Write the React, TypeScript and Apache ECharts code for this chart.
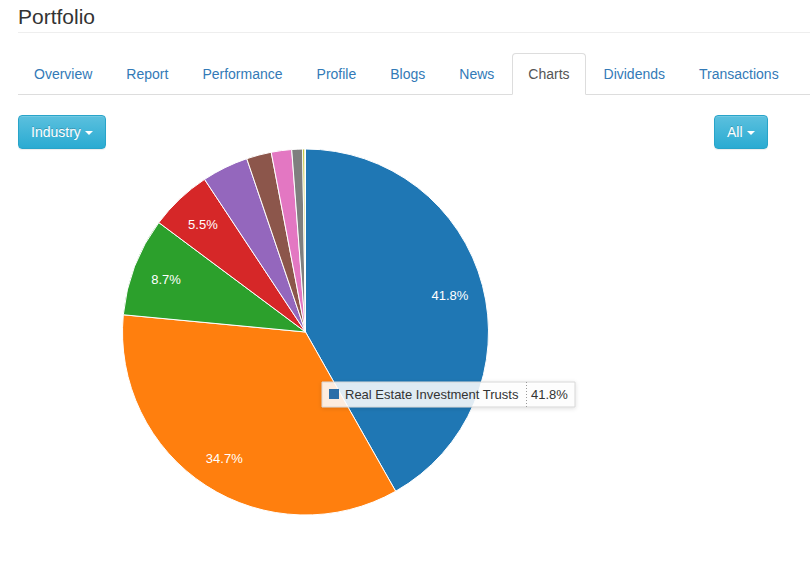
import React, { useEffect, useRef } from 'react';
import * as echarts from 'echarts';

const pageTitle = 'Portfolio';
const tabs = ['Overview', 'Report', 'Performance', 'Profile', 'Blogs', 'News', 'Charts', 'Dividends', 'Transactions'];
const activeTab = 'Charts';
const leftButton = 'Industry';
const rightButton = 'All';

const categories = [
  'Real Estate Investment Trusts',
  'Industry B',
  'Industry C',
  'Industry D',
  'Industry E',
  'Industry F',
  'Industry G',
  'Industry H',
  'Industry I',
  'Industry J',
];
const values = [41.8, 34.7, 8.7, 5.5, 4.1, 2.2, 1.8, 0.95, 0.2, 0.05];
const colors = ['#1f77b4', '#ff7f0e', '#2ca02c', '#d62728', '#9467bd', '#8c564b', '#e377c2', '#7f7f7f', '#bcbd22', '#17becf'];
const labelThreshold = 5;
const tooltipIndex = 0;

const FONT = '"Liberation Sans", Arial, Helvetica, sans-serif';

function Caret() {
  return (
    <span
      style={{
        display: 'inline-block',
        width: 0,
        height: 0,
        marginLeft: 4,
        verticalAlign: 'middle',
        borderTop: '4px solid #fff',
        borderRight: '4px solid transparent',
        borderLeft: '4px solid transparent',
      }}
    />
  );
}

function Btn({ text, left }: { text: string; left: number }) {
  return (
    <div
      style={{
        position: 'absolute',
        left,
        top: 115,
        height: 34,
        boxSizing: 'border-box',
        padding: '6px 12px',
        lineHeight: '20px',
        fontSize: 14,
        color: '#fff',
        border: '1px solid #28a4c9',
        borderRadius: 4,
        background: 'linear-gradient(to bottom, #5bc0de 0%, #2aabd2 100%)',
        textShadow: '0 -1px 0 rgba(0,0,0,.2)',
        boxShadow: 'inset 0 1px 0 rgba(255,255,255,.15), 0 1px 1px rgba(0,0,0,.075)',
        whiteSpace: 'nowrap',
      }}
    >
      {text}
      <Caret />
    </div>
  );
}

export default function App() {
  const ref = useRef<HTMLDivElement>(null);

  useEffect(() => {
    document.body.style.margin = '0';
    if (!ref.current) return;
    const chart = echarts.init(ref.current, undefined, { renderer: 'svg' });
    const data = categories.map((name, i) => ({ name, value: values[i] }));
    const center = [305.5, 332];
    const R = 183;
    chart.setOption({
      animation: false,
      color: colors,
      series: [
        {
          type: 'pie',
          z: 1,
          center,
          radius: [0, R],
          startAngle: 90,
          clockwise: true,
          avoidLabelOverlap: false,
          itemStyle: { borderColor: '#fff', borderWidth: 1 },
          label: { show: false },
          labelLine: { show: false },
          emphasis: { disabled: true },
          silent: true,
          data,
        },
        {
          type: 'pie',
          z: 2,
          center: [center[0], center[1] + 1.5],
          radius: [R * 0.6, R],
          startAngle: 90,
          clockwise: true,
          avoidLabelOverlap: false,
          itemStyle: { color: 'rgba(0,0,0,0)', borderWidth: 0 },
          label: {
            show: true,
            position: 'inside',
            color: '#fff',
            fontSize: 13,
            fontFamily: FONT,
            formatter: (p: any) => (p.value >= labelThreshold ? `${p.value.toFixed(1)}%` : ''),
          },
          labelLine: { show: false },
          emphasis: { disabled: true },
          silent: true,
          data,
        },
      ],
      graphic: {
        elements: [
          {
            type: 'group',
            x: 322,
            y: 382,
            zlevel: 1,
            z: 100,
            children: [
              {
                type: 'rect',
                z: 100,
                zlevel: 1,
                shape: { x: 0, y: 0, width: 253, height: 25 },
                style: {
                  fill: 'rgba(255,255,255,0.85)',
                  stroke: '#d6d6d6',
                  lineWidth: 1,
                  shadowBlur: 4,
                  shadowColor: 'rgba(0,0,0,0.15)',
                  shadowOffsetY: 1,
                },
              },
              {
                type: 'rect',
                z: 101,
                zlevel: 1,
                shape: { x: 7, y: 7, width: 10, height: 10 },
                style: { fill: '#2b6ea8' },
              },
              {
                type: 'text',
                z: 101,
                zlevel: 1,
                x: 23,
                y: 12.5,
                style: {
                  text: categories[tooltipIndex],
                  font: `13px ${FONT}`,
                  fill: '#333',
                  verticalAlign: 'middle',
                },
              },
              {
                type: 'line',
                z: 101,
                zlevel: 1,
                shape: { x1: 204.5, y1: 0, x2: 204.5, y2: 25 },
                style: { stroke: '#999', lineWidth: 1, lineDash: [1, 2] },
              },
              {
                type: 'text',
                z: 101,
                zlevel: 1,
                x: 209,
                y: 12.5,
                style: {
                  text: `${values[tooltipIndex].toFixed(1)}%`,
                  font: `13px ${FONT}`,
                  fill: '#333',
                  verticalAlign: 'middle',
                },
              },
            ],
          },
        ],
      },
    });
    return () => chart.dispose();
  }, []);

  return (
    <div
      style={{
        position: 'fixed',
        left: 0,
        top: 0,
        width: 810,
        height: 562,
        overflow: 'hidden',
        background: '#fff',
        fontFamily: FONT,
      }}
    >
      <div ref={ref} style={{ position: 'absolute', left: 0, top: 0, width: 810, height: 562 }} />
      <div
        style={{
          position: 'absolute',
          left: 18,
          top: 7,
          fontSize: 21,
          lineHeight: '20px',
          color: '#333',
        }}
      >
        {pageTitle}
      </div>
      <div style={{ position: 'absolute', left: 18, top: 32, width: 792, height: 1, background: '#eee' }} />
      <div
        style={{
          position: 'absolute',
          left: 18,
          top: 53,
          width: 792,
          height: 41,
          borderBottom: '1px solid #ddd',
          display: 'flex',
        }}
      >
        {tabs.map((t) => {
          const active = t === activeTab;
          return (
            <div
              key={t}
              style={{
                marginRight: 2,
                marginBottom: -1,
                padding: '10px 15px',
                lineHeight: '20px',
                fontSize: 14,
                whiteSpace: 'nowrap',
                color: active ? '#555' : '#337ab7',
                background: active ? '#fff' : 'transparent',
                border: active ? '1px solid #ddd' : '1px solid transparent',
                borderBottomColor: 'transparent',
                borderRadius: '4px 4px 0 0',
              }}
            >
              {t}
            </div>
          );
        })}
      </div>
      <Btn text={leftButton} left={18} />
      <Btn text={rightButton} left={714} />
    </div>
  );
}
